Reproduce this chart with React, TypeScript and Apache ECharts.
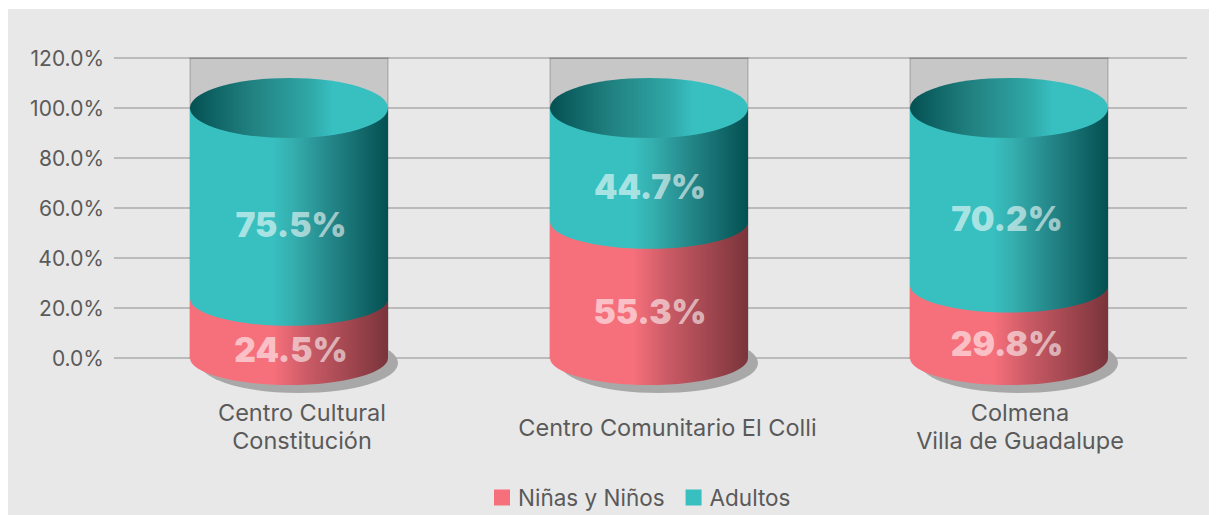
import React, { useEffect, useRef } from "react";
import * as echarts from "echarts";

const categories = ["Centro Cultural\nConstitución", "Centro Comunitario El Colli", "Colmena\nVilla de Guadalupe"];
const ninosValues = [24.5, 55.3, 29.8];
const adultosValues = [75.5, 44.7, 70.2];
const columnTop = [120, 120, 120];
const labelShift = [26, 37, 22];
const labelDrop = [0, 15, 0];
const valueNudge = [2, 1, -2];

const FONT = "Inter";
const TEXT = "#5a5a5a";

const grad = (stops: [number, string][]) =>
  new echarts.graphic.LinearGradient(0, 0, 1, 0, stops.map(([offset, color]) => ({ offset, color })));

const pinkGrad = () => grad([[0, "#f6707b"], [0.42, "#f6707b"], [0.6, "#c95a65"], [1, "#7a343b"]]);
const tealGrad = () => grad([[0, "#38bfc0"], [0.42, "#38bfc0"], [0.52, "#35aeae"], [0.7, "#25888a"], [1, "#045052"]]);
const topGrad = () => grad([[0, "#045052"], [0.3, "#20807f"], [0.6, "#30a6a6"], [0.72, "#38bfc0"], [1, "#38bfc0"]]);

function geom(api: any) {
  const band = api.size([1, 0])[0];
  const rx = band * 0.275;
  const ry = api.size([0, 12])[1];
  const lowRy = api.size([0, 10.8])[1];
  const start = api.value(2);
  const end = api.value(1) + start;
  const [cx, y0] = api.coord([api.value(0), start]);
  const y1 = api.coord([api.value(0), end])[1];
  return { rx, ry, lowRy, cx, y0, y1, start, end };
}

function label(text: string, cx: number, y: number, i: number) {
  return {
    type: "text",
    z2: 10,
    style: {
      text,
      x: cx + valueNudge[i],
      y,
      align: "center",
      verticalAlign: "middle",
      font: `900 33.5px ${FONT}`,
      fill: "rgba(255,255,255,0.58)",
    },
  };
}

function renderNinos(p: any, api: any) {
  const { rx, ry, lowRy, cx, y0, y1 } = geom(api);
  const l = cx - rx;
  const r = cx + rx;
  return {
    type: "group",
    children: [
      {
        type: "ellipse",
        shape: { cx: cx + 10, cy: y0 + 5, rx, ry },
        style: { fill: "#a9a8a8" },
      },
      {
        type: "path",
        shape: { pathData: `M${l} ${y1}L${l} ${y0}A${rx} ${lowRy} 0 0 0 ${r} ${y0}L${r} ${y1}Z` },
        style: { fill: pinkGrad() },
      },
      label(api.value(1).toFixed(1) + "%", cx, (y0 + y1) / 2 + 23, p.dataIndex),
    ],
  };
}

function renderAdultos(p: any, api: any) {
  const { rx, ry, lowRy, cx, y0, y1 } = geom(api);
  const l = cx - rx;
  const r = cx + rx;
  const edge = y0 + 2;
  return {
    type: "group",
    children: [
      {
        type: "path",
        shape: { pathData: `M${l} ${y1}L${l} ${edge}A${rx} ${lowRy} 0 0 0 ${r} ${edge}L${r} ${y1}Z` },
        style: { fill: tealGrad() },
      },
      {
        type: "ellipse",
        shape: { cx, cy: y1, rx, ry },
        style: { fill: topGrad() },
      },
      label(api.value(1).toFixed(1) + "%", cx, (y0 + y1) / 2 + 23, p.dataIndex),
    ],
  };
}

function renderColumn(_p: any, api: any) {
  const { rx, cx, y0, y1 } = geom(api);
  return {
    type: "rect",
    shape: { x: cx - rx, y: y1, width: rx * 2, height: y0 - y1 },
    style: { fill: "rgba(0,0,0,0.14)", stroke: "rgba(0,0,0,0.16)", lineWidth: 1.5 },
  };
}

export default function App() {
  const ref = useRef<HTMLDivElement>(null);
  useEffect(() => {
    const chart = echarts.init(ref.current!, null, { renderer: "svg" });
    const yBase = { type: "value", min: 0, max: 120, interval: 20 };
    chart.setOption({
      animation: false,
      backgroundColor: "transparent",
      textStyle: { fontFamily: FONT },
      grid: [
        { left: 109, width: 1080, top: 58, height: 300 },
        { left: 114, width: 1073, top: 58, height: 300 },
      ],
      legend: {
        data: [
          { name: "Niñas y Niños", itemStyle: { color: "#f6707b" } },
          { name: "Adultos", itemStyle: { color: "#38bfc0" } },
        ],
        left: 489,
        top: 481,
        itemWidth: 16,
        itemHeight: 16,
        itemGap: 21,
        icon: "rect",
        textStyle: { color: TEXT, fontSize: 22.5, fontFamily: FONT, padding: [0, 0, 0, 3] },
      },
      xAxis: [
        {
          type: "category",
          gridIndex: 0,
          data: categories.map((value, i) => ({
            value,
            textStyle: { padding: [labelDrop[i], 0, 0, labelShift[i]] },
          })),
          axisLine: { show: false },
          axisTick: { show: false },
          axisLabel: {
            interval: 0,
            margin: 40,
            color: TEXT,
            fontSize: 23.5,
            fontFamily: FONT,
            lineHeight: 28,
          },
        },
        { type: "category", gridIndex: 1, data: categories, show: false },
      ],
      yAxis: [
        { ...yBase, gridIndex: 0, show: false, splitLine: { show: false } },
        {
          ...yBase,
          gridIndex: 1,
          axisLine: { show: false },
          axisTick: { show: false },
          axisLabel: {
            margin: 10,
            color: TEXT,
            fontSize: 21,
            fontFamily: FONT,
            formatter: (v: number) => v.toFixed(1) + "%",
          },
          splitLine: { show: true, lineStyle: { color: "#adadad", width: 1.5 } },
        },
      ],
      series: [
        {
          type: "custom",
          name: "Fondo",
          coordinateSystem: "cartesian2d",
          renderItem: renderColumn,
          encode: { x: 0, y: 1 },
          z: 1,
          data: categories.map((_, i) => [i, columnTop[i], 0]),
        },
        {
          type: "custom",
          name: "Niñas y Niños",
          coordinateSystem: "cartesian2d",
          renderItem: renderNinos,
          encode: { x: 0, y: 1 },
          z: 2,
          data: categories.map((_, i) => [i, ninosValues[i], 0]),
        },
        {
          type: "custom",
          name: "Adultos",
          coordinateSystem: "cartesian2d",
          renderItem: renderAdultos,
          encode: { x: 0, y: 1 },
          z: 3,
          data: categories.map((_, i) => [i, adultosValues[i], ninosValues[i]]),
        },
      ],
    });
    return () => chart.dispose();
  }, []);
  return (
    <>
      <div style={{ position: "absolute", left: 8, top: 9, width: 1201, height: 506, background: "#e8e8e8" }} />
      <div ref={ref} style={{ position: "absolute", left: 0, top: 0, width: 1217, height: 515 }} />
    </>
  );
}
